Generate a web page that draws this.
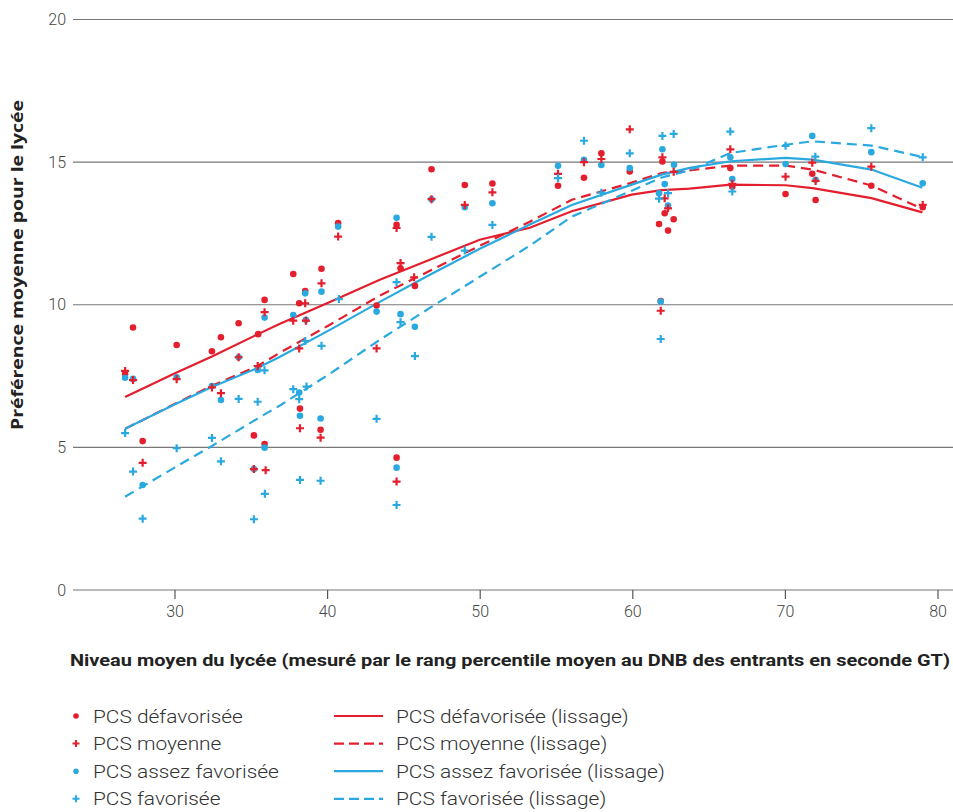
<!DOCTYPE html>
<html>
<head>
<meta charset="utf-8">
<script src="https://cdn.jsdelivr.net/npm/d3@7"></script>
<style>
  body { margin: 0; background: #fff; }
</style>
</head>
<body>
<svg width="953" height="812"></svg>
<script>
const { select, scaleLinear, line, curveLinear } = d3;

// Points, one array per group: [niveau moyen du lycée, préférence moyenne]
const defavorisee = [
  [26.73, 7.57], [27.25, 9.2], [27.88, 5.22], [30.11, 8.59], [32.42, 8.37],
  [33.01, 8.86], [34.17, 9.35], [35.45, 8.97], [35.17, 5.42], [35.87, 10.17],
  [35.87, 5.12], [37.75, 11.08], [38.14, 10.05], [38.53, 10.48], [38.19, 6.36],
  [39.6, 11.26], [39.54, 5.62], [40.69, 12.86], [43.21, 9.97], [44.52, 12.8],
  [44.52, 4.64], [44.78, 11.28], [45.72, 10.66], [46.81, 14.75], [48.99, 14.2],
  [50.8, 14.25], [55.1, 14.17], [56.8, 14.45], [57.94, 15.31], [59.8, 14.67],
  [61.72, 12.83], [61.83, 10.13], [61.94, 15.02], [62.09, 13.21], [62.31, 12.6],
  [62.68, 13.0], [66.39, 14.79], [66.52, 14.14], [70.01, 13.88], [71.76, 14.59],
  [71.98, 13.67], [75.63, 14.17], [79.0, 13.42]
];
const moyenne = [
  [26.73, 7.68], [27.25, 7.36], [27.88, 4.46], [30.11, 7.39], [32.42, 7.1],
  [33.01, 6.9], [34.17, 8.16], [35.42, 7.85], [35.17, 4.24], [35.87, 9.74],
  [35.94, 4.2], [37.75, 9.44], [38.14, 8.47], [38.53, 10.05], [38.58, 9.44],
  [38.19, 5.67], [39.6, 10.75], [39.54, 5.34], [40.69, 12.39], [43.21, 8.47],
  [44.52, 12.69], [44.52, 3.8], [44.78, 11.46], [45.67, 10.96], [46.81, 13.7],
  [48.99, 13.5], [50.8, 13.94], [55.1, 14.59], [56.8, 15.0], [57.94, 15.11],
  [59.8, 16.15], [61.83, 9.79], [61.94, 15.17], [62.09, 13.73], [62.31, 13.38],
  [62.68, 14.66], [66.39, 15.45], [66.52, 14.24], [70.01, 14.49], [71.76, 14.98],
  [71.98, 14.34], [75.63, 14.84], [79.0, 13.5]
];
const assezFavorisee = [
  [26.73, 7.44], [27.25, 7.4], [27.88, 3.68], [30.11, 7.46], [32.42, 7.15],
  [33.01, 6.66], [34.17, 8.16], [35.42, 7.71], [35.17, 4.24], [35.87, 9.55],
  [35.87, 4.99], [37.75, 9.64], [38.14, 6.92], [38.53, 10.4], [38.58, 9.47],
  [38.19, 6.11], [39.6, 10.46], [39.54, 6.01], [40.69, 12.74], [43.21, 9.76],
  [44.52, 13.05], [44.52, 4.29], [44.78, 9.67], [45.72, 9.23], [46.81, 13.7],
  [48.99, 13.42], [50.8, 13.56], [55.1, 14.87], [56.8, 15.08], [57.94, 14.9],
  [59.8, 14.79], [61.72, 13.91], [61.83, 10.11], [61.94, 15.45], [62.09, 14.23],
  [62.31, 13.48], [62.7, 14.91], [66.39, 15.17], [66.52, 14.41], [70.01, 14.93],
  [71.76, 15.92], [71.98, 14.38], [75.63, 15.35], [79.0, 14.26]
];
const favorisee = [
  [26.73, 5.5], [27.25, 4.15], [27.88, 2.5], [30.11, 4.97], [32.42, 5.33],
  [33.01, 4.51], [34.17, 6.7], [35.42, 6.6], [35.17, 2.48], [35.87, 7.7],
  [35.89, 3.37], [37.75, 7.04], [38.14, 6.69], [38.53, 8.73], [38.62, 7.13],
  [38.19, 3.86], [39.6, 8.56], [39.54, 3.83], [40.74, 10.2], [43.21, 6.0],
  [44.52, 10.79], [44.52, 2.98], [44.78, 9.39], [45.72, 8.2], [46.81, 12.38],
  [48.99, 11.9], [50.8, 12.8], [55.1, 14.44], [56.8, 15.75], [57.94, 13.93],
  [59.8, 15.31], [61.72, 13.72], [61.83, 8.8], [61.94, 15.92], [62.31, 13.91],
  [62.68, 15.99], [66.39, 16.07], [66.52, 13.97], [70.01, 15.57], [71.96, 15.19],
  [75.63, 16.19], [79.0, 15.17]
];

// Smoothed curves (lissage), evaluated at these x values
const lissageX = [26.73, 30, 32.42, 35.44, 36.88, 40.15, 43.42, 46.7, 49.97, 53.25,
  56.0, 59.93, 61.89, 63.73, 66.41, 70.01, 71.78, 75.64, 78.98];
const lissageDefav = [6.77, 7.6, 8.19, 8.97, 9.33, 10.1, 10.88, 11.58, 12.28, 12.7,
  13.28, 13.86, 14.02, 14.07, 14.21, 14.19, 14.09, 13.74, 13.24];
const lissageMoy = [5.65, 6.53, 7.16, 7.86, 8.32, 9.3, 10.32, 11.19, 12.07, 12.91,
  13.68, 14.28, 14.62, 14.71, 14.88, 14.88, 14.74, 14.18, 13.36];
const lissageAssez = [5.65, 6.51, 7.12, 7.79, 8.18, 9.12, 10.1, 11.05, 11.96, 12.81,
  13.5, 14.21, 14.56, 14.8, 15.03, 15.15, 15.09, 14.74, 14.1];
const lissageFav = [3.27, 4.3, 5.05, 6.02, 6.47, 7.58, 8.77, 9.89, 10.98, 12.07,
  13.09, 14.0, 14.46, 14.71, 15.32, 15.61, 15.73, 15.58, 15.18];

const xTicks = [30, 40, 50, 60, 70, 80];
const yTicks = [0, 5, 10, 15, 20];

const red = '#e31e2d';
const blue = '#2aa9e0';
const grid = '#777';

const svg = select('svg');

const x = scaleLinear().domain([30, 80]).range([175, 938]);
const y = scaleLinear().domain([0, 20]).range([590, 19.5]);
const left = 73;
const right = 953;

// Grid
svg.append('g')
  .selectAll('line')
  .data(yTicks)
  .join('line')
  .attr('x1', left)
  .attr('x2', right)
  .attr('y1', (d) => y(d))
  .attr('y2', (d) => y(d))
  .attr('stroke', grid)
  .attr('stroke-width', 1.2);

svg.append('g')
  .selectAll('text')
  .data(yTicks)
  .join('text')
  .attr('x', 66)
  .attr('y', (d) => y(d))
  .attr('dy', '0.35em')
  .attr('text-anchor', 'end')
  .attr('font-family', 'Roboto')
  .attr('font-weight', 300)
  .attr('font-size', 16)
  .attr('fill', '#444')
  .text((d) => d);

// X axis ticks
const xAxisG = svg.append('g');
xAxisG.selectAll('line')
  .data(xTicks)
  .join('line')
  .attr('x1', (d) => x(d))
  .attr('x2', (d) => x(d))
  .attr('y1', y(0))
  .attr('y2', y(0) + 9)
  .attr('stroke', '#555')
  .attr('stroke-width', 1.2);
xAxisG.selectAll('text')
  .data(xTicks)
  .join('text')
  .attr('x', (d) => x(d))
  .attr('y', 617)
  .attr('text-anchor', 'middle')
  .attr('font-family', 'Roboto')
  .attr('font-weight', 300)
  .attr('font-size', 16)
  .attr('fill', '#444')
  .text((d) => d);

// Axis titles
svg.append('text')
  .attr('x', 70)
  .attr('y', 666)
  .attr('font-family', 'Roboto')
  .attr('font-weight', 700)
  .attr('font-size', 16)
  .attr('fill', '#222')
  .attr('textLength', 880)
  .attr('lengthAdjust', 'spacingAndGlyphs')
  .text('Niveau moyen du lycée (mesuré par le rang percentile moyen au DNB des entrants en seconde GT)');

svg.append('text')
  .attr('transform', 'translate(23,265) rotate(-90)')
  .attr('text-anchor', 'middle')
  .attr('font-family', 'Open Sans')
  .attr('font-weight', 700)
  .attr('font-size', 16)
  .attr('fill', '#222')
  .attr('textLength', 330)
  .attr('lengthAdjust', 'spacingAndGlyphs')
  .text('Préférence moyenne pour le lycée');

// Smoothed lines
const lines = [
  { values: lissageDefav, color: red, dash: null },
  { values: lissageMoy, color: red, dash: '10,6' },
  { values: lissageAssez, color: blue, dash: null },
  { values: lissageFav, color: blue, dash: '10,6' },
];
const lineGen = line()
  .x((d) => x(d[0]))
  .y((d) => y(d[1]))
  .curve(curveLinear);

svg.append('g')
  .selectAll('path')
  .data(lines)
  .join('path')
  .attr('d', (d) => lineGen(lissageX.map((v, i) => [v, d.values[i]])))
  .attr('fill', 'none')
  .attr('stroke', (d) => d.color)
  .attr('stroke-width', 2.2)
  .attr('stroke-dasharray', (d) => d.dash);

// Points
const crossPath = 'M-4,0H4M0,-4V4';
const dots = (data, color) =>
  svg.append('g')
    .selectAll('circle')
    .data(data)
    .join('circle')
    .attr('cx', (d) => x(d[0]))
    .attr('cy', (d) => y(d[1]))
    .attr('r', 3.3)
    .attr('fill', color);
const crosses = (data, color) =>
  svg.append('g')
    .selectAll('path')
    .data(data)
    .join('path')
    .attr('transform', (d) => `translate(${x(d[0])},${y(d[1])})`)
    .attr('d', crossPath)
    .attr('stroke', color)
    .attr('stroke-width', 2.2);

dots(defavorisee, red);
dots(assezFavorisee, blue);
crosses(moyenne, red);
crosses(favorisee, blue);

// Legend
const legendPoints = [
  { label: 'PCS défavorisée', color: red, shape: 'dot' },
  { label: 'PCS moyenne', color: red, shape: 'cross' },
  { label: 'PCS assez favorisée', color: blue, shape: 'dot' },
  { label: 'PCS favorisée', color: blue, shape: 'cross' },
];
const legendLines = [
  { label: 'PCS défavorisée (lissage)', color: red, dash: null },
  { label: 'PCS moyenne (lissage)', color: red, dash: '10,5' },
  { label: 'PCS assez favorisée (lissage)', color: blue, dash: null },
  { label: 'PCS favorisée (lissage)', color: blue, dash: '10,5' },
];
const rowY = (i) => 716 + i * 27.6;

// legend font is a wide light face; stretch Roboto a little to match
const legendText = (sel, xPos) =>
  sel.append('text')
    .attr('x', xPos)
    .attr('dy', '0.35em')
    .attr('font-family', 'Roboto')
    .attr('font-weight', 300)
    .attr('font-size', 19)
    .attr('fill', '#333')
    .text((d) => d.label)
    .each(function () {
      const w = this.getComputedTextLength();
      select(this)
        .attr('textLength', w * 1.1)
        .attr('lengthAdjust', 'spacingAndGlyphs');
    });

const lp = svg.append('g')
  .selectAll('g')
  .data(legendPoints)
  .join('g')
  .attr('transform', (d, i) => `translate(0,${rowY(i)})`);
lp.filter((d) => d.shape === 'dot')
  .append('circle')
  .attr('cx', 76)
  .attr('r', 2.8)
  .attr('fill', (d) => d.color);
lp.filter((d) => d.shape === 'cross')
  .append('path')
  .attr('transform', 'translate(76,0)')
  .attr('d', 'M-3.5,0H3.5M0,-3.5V3.5')
  .attr('stroke', (d) => d.color)
  .attr('stroke-width', 2);
legendText(lp, 93);

const ll = svg.append('g')
  .selectAll('g')
  .data(legendLines)
  .join('g')
  .attr('transform', (d, i) => `translate(0,${rowY(i)})`);
ll.append('line')
  .attr('x1', 334)
  .attr('x2', 383)
  .attr('stroke', (d) => d.color)
  .attr('stroke-width', 2.2)
  .attr('stroke-dasharray', (d) => d.dash);
legendText(ll, 396);
</script>
</body>
</html>
